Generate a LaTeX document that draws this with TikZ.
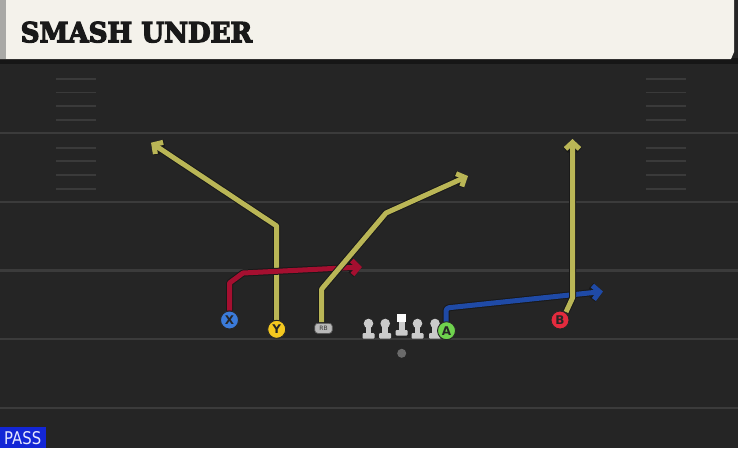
\documentclass[tikz,border=0pt]{standalone}
\usepackage{fontspec}
\usepackage{graphicx}
\usetikzlibrary{arrows.meta}
\newfontfamily\titlefont{DejaVu Serif}[BoldFeatures={FakeBold=4.5}]
\newfontfamily\labelfont{DejaVu Sans}
\definecolor{fieldbg}{HTML}{252525}
\definecolor{yard}{HTML}{3B3B3B}
\definecolor{hashc}{HTML}{3A3A3A}
\definecolor{cream}{HTML}{F4F2EB}
\definecolor{leftbar}{HTML}{A9A9A6}
\definecolor{topstrip}{HTML}{161616}
\definecolor{routeY}{HTML}{BAB656}
\definecolor{routeR}{HTML}{A50F30}
\definecolor{routeB}{HTML}{1F4AA6}
\definecolor{xfill}{HTML}{3B7BDA}
\definecolor{yfill}{HTML}{F4C81F}
\definecolor{afill}{HTML}{6FD24E}
\definecolor{bfill}{HTML}{E42B3E}
\definecolor{rbfill}{HTML}{B8B8B8}
\definecolor{pawn}{HTML}{CBCBCB}
\definecolor{qbgray}{HTML}{6A6A6A}
\definecolor{passblue}{HTML}{1326D6}
\definecolor{passtext}{HTML}{E6E8FF}
\tikzset{
  yardline/.style={draw=yard, line width=2.3pt},
  hashmark/.style={draw=hashc, line width=1.8pt},
  routeout/.style={draw=black!90, line width=7pt, line join=round, -{Straight Barb[length=6.5pt,width=14pt]}},
  route/.style={line width=5pt, line join=round, -{Straight Barb[length=6.5pt,width=14pt]}},
  player/.style={circle, minimum size=18pt, inner sep=0pt, draw=black!85, line width=0.9pt,
    font=\labelfont\bfseries\fontsize{12}{12}\selectfont, text=black!85},
  rbstyle/.style={rounded corners=3pt, fill=rbfill, draw=black!70, line width=0.6pt, minimum width=17.5pt, minimum height=10pt,
    inner sep=0pt, font=\labelfont\fontsize{6}{6}\selectfont, text=black!80},
  lineman/.pic={
    \fill[pawn] (-2.8,0) rectangle (2.8,10);
    \fill[pawn, rounded corners=1pt] (-6,9.5) rectangle (6,15);
    \fill[pawn] (0,0) circle (4.8);
  },
  centerman/.pic={
    \fill[white!92!pawn] (-4.5,-9) rectangle (4.5,-1);
    \fill[pawn] (-2.8,-1) rectangle (2.8,8);
    \fill[pawn, rounded corners=1pt] (-6,7.5) rectangle (6,13);
  }
}
\newcommand\routeline[2]{\draw[routeout] #2; \draw[route,draw=#1] #2;}
\begin{document}
\begin{tikzpicture}[x=1pt,y=-1pt]
\useasboundingbox (0,0) rectangle (738,448);
% field
\fill[fieldbg] (0,0) rectangle (738,448);
\fill[topstrip] (0,58) rectangle (738,64);
\foreach \y in {133,201.7,270.4,339,407.8}
  \draw[yardline] (0,\y) -- (738,\y);
\foreach \L in {64.3,133}
  \foreach \o in {14.7,28.2,42,55.8} {
    \draw[hashmark] (56,\L+\o) -- (96,\L+\o);
    \draw[hashmark] (646,\L+\o) -- (686,\L+\o);
  }
% header
\fill[cream] (0,0) -- (734,0) -- (734,52) -- (731,59) -- (0,59) -- cycle;
\fill[leftbar] (0,0) rectangle (5.5,59);
\node[anchor=south west, inner sep=0pt, text=black!90] (title) at (20.5,42.8)
  {\resizebox{231.5pt}{20.5pt}{\titlefont\bfseries SMASH UNDER}};
% players
\node[player, fill=xfill] (X) at (229.5,320) {X};
\node[player, fill=yfill] (Y) at (276.7,329.3) {Y};
\node[player, fill=afill] (A) at (446.5,330.7) {A};
\node[player, fill=bfill] (B) at (560,320) {B};
\node[rbstyle] (RB) at (323.5,328.3) {RB};
\node[circle, fill=qbgray, minimum size=9pt, inner sep=0pt] (QB) at (401.7,353.3) {};
% route end coordinates
\coordinate (y1) at (276.7,226);
\coordinate (yend) at (151,142.7);
\coordinate (x1) at (229.5,283);
\coordinate (x2) at (243,273);
\coordinate (xend) at (362,267);
\coordinate (rb0) at (321.7,322);
\coordinate (rb1) at (321.7,289);
\coordinate (rb2) at (386,213);
\coordinate (rbend) at (468,176);
\coordinate (a0) at (446,322);
\coordinate (a1) at (446,308);
\coordinate (aend) at (603,291.5);
\coordinate (b0) at (566,312);
\coordinate (b1) at (572.5,298);
\coordinate (bend) at (572.5,139);
% routes
\routeline{routeY}{(Y.north) -- (y1) -- (yend)}
\routeline{routeR}{(X.north) -- (x1) -- (x2) -- (xend)}
\routeline{routeY}{(rb0) -- (rb1) -- (rb2) -- (rbend)}
\routeline{routeB}{[rounded corners=3pt] (a0) -- (a1) -- (aend)}
\routeline{routeY}{(b0) -- (b1) -- (bend)}
% redraw players on top
\node[player, fill=xfill] at (X) {X};
\node[player, fill=yfill] at (Y) {Y};
\node[rbstyle] at (RB) {RB};
% linemen
\foreach \x in {368.5,385.2,417.5,435} \pic at (\x,323.5) {lineman};
\pic at (401.7,322.5) {centerman};
\node[player, fill=afill] at (A) {A};
\node[player, fill=bfill] at (B) {B};
% pass tag
\node[fill=passblue, anchor=south west, minimum width=46pt, minimum height=20.5pt, inner sep=0pt] (pass) at (0,448) {};
\node[anchor=south west, inner sep=0pt, text=passtext] (passlabel) at (4,445)
  {\resizebox{37pt}{13pt}{\labelfont PASS}};
\end{tikzpicture}
\end{document}
